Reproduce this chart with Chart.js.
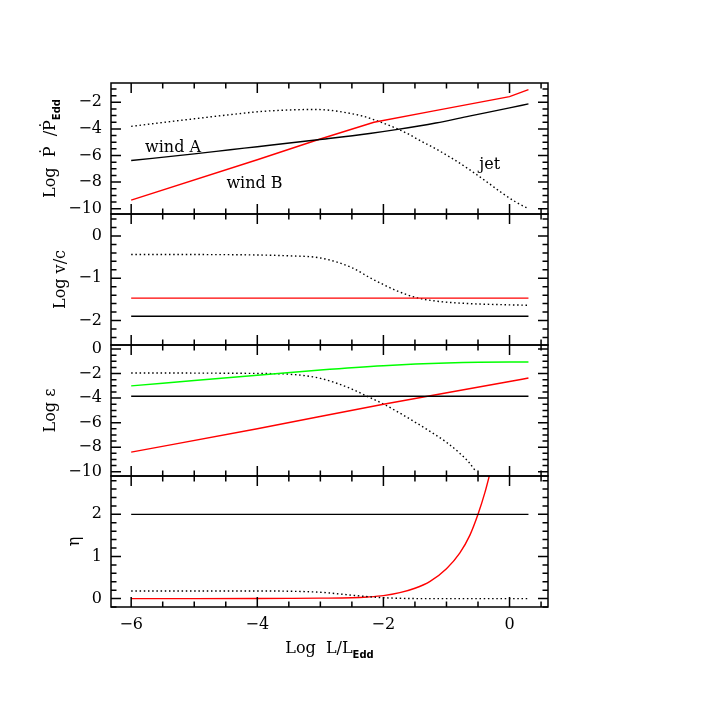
<!DOCTYPE html>
<html><head><meta charset="utf-8">
<script src="https://cdn.jsdelivr.net/npm/chart.js@4.4.1/dist/chart.umd.min.js"></script>
<style>html,body{margin:0;padding:0;background:#fff;}canvas{display:block;}</style>
</head><body>
<canvas id="c" width="718" height="718"></canvas>
<script>
// ---------- tick labels ----------
const xTicks   = [-6, -4, -2, 0];
const ticksP   = [-10, -8, -6, -4, -2];
const ticksV   = [-2, -1, 0];
const ticksE   = [-10, -8, -6, -4, -2, 0];
const ticksEta = [0, 1, 2];

// ---------- panel 1 : Log Pdot / Pdot_Edd ----------
const windA_L = [-6, -5, -4.43, -4, -3.04, -2.22, -1.8, -1.17, -0.64, 0, 0.3];
const windA_P = [-6.38, -5.88, -5.57, -5.34, -4.82, -4.35, -4.06, -3.56, -3.04, -2.42, -2.12];
const windB_L = [-6, -4, -3.04, -2.15, -1.2, 0, 0.3];
const windB_P = [-9.36, -6.32, -4.82, -3.5, -2.65, -1.57, -1.05];
const jet_L   = [-6, -5.5, -5, -4.43, -3.91, -3.38, -3.1, -2.85, -2.59, -2.32, -2.17, -1.8, -1.6, -1.43, -1.17, -0.9, -0.64, -0.37, -0.11, 0.1, 0.3];
const jet_P   = [-3.81, -3.52, -3.24, -2.93, -2.68, -2.56, -2.54, -2.6, -2.78, -3.05, -3.28, -3.95, -4.4, -4.85, -5.5, -6.25, -7.05, -7.95, -8.85, -9.5, -10.0];

// ---------- panel 2 : Log v/c ----------
const flat_L   = [-6, 0.3];
const windA_V  = [-1.9, -1.9];
const windB_V  = [-1.47, -1.47];
const jetV_L   = [-6, -5, -4, -3.5, -3, -2.5, -2.2, -2, -1.8, -1.5, -1.17, -0.64, 0, 0.3];
const jet_V    = [-0.44, -0.44, -0.45, -0.47, -0.52, -0.75, -1.0, -1.15, -1.29, -1.45, -1.54, -1.6, -1.63, -1.64];

// ---------- panel 3 : Log epsilon ----------
const green_L  = [-6, -5, -4, -3, -2, -1, 0, 0.3];
const green_E  = [-3.0, -2.57, -2.14, -1.71, -1.36, -1.14, -1.06, -1.06];
const windA_E  = [-3.85, -3.85];
const windBE_L = [-6, -4, -2, 0, 0.3];
const windB_E  = [-8.4, -6.5, -4.5, -2.65, -2.36];
const jetE_L   = [-6, -5, -4, -3.5, -3, -2.5, -2.28, -2, -1.5, -1.25, -1, -0.8, -0.65, -0.53];
const jet_E    = [-1.95, -1.96, -1.99, -2.05, -2.39, -3.26, -3.8, -4.48, -5.95, -6.75, -7.6, -8.45, -9.2, -10.0];

// ---------- panel 4 : eta ----------
const windA_Eta = [2.0, 2.0];
const jetEta_L  = [-6, -4, -3.5, -3, -2.7, -2.5, -2.2, -2, -1.7, -1.5, 0.3];
const jet_Eta   = [0.18, 0.18, 0.175, 0.15, 0.11, 0.08, 0.04, 0.02, 0.005, 0, 0];
const windBEta_L = [-6, -5, -4, -3.5, -3, -2.5, -2.25, -2, -1.74, -1.5, -1.26, -1, -0.79, -0.63, -0.5, -0.39, -0.28];
const windB_Eta  = [0, 0, 0.002, 0.005, 0.01, 0.02, 0.038, 0.07, 0.14, 0.245, 0.41, 0.71, 1.08, 1.5, 2.0, 2.52, 3.15];

// ---------- helpers ----------
const FAM = '"DejaVu Serif", serif';
const TICKFONT = {family: FAM, size: 16};
const fmt = v => (v < 0 ? '\u2212' + Math.abs(v) : String(v));
const pts = (xs, ys) => xs.map((x, i) => ({x: x, y: ys[i]}));

function ds(xs, ys, axis, color, dotted, straight) {
  return {
    data: pts(xs, ys), yAxisID: axis, xAxisID: 'x',
    borderColor: color, borderWidth: 1.4, pointRadius: 0, fill: false,
    borderDash: dotted ? [1.5, 2.7] : [],
    cubicInterpolationMode: straight ? 'default' : 'monotone', tension: 0
  };
}

const panelDefs = [
  {id: 'yP',   ticks: ticksP,   minor: 0.5, min: -10.4,  max: -0.55,
   title: [{t: 'Log  \u1E56  /\u1E56'}, {t: 'Edd', sub: true}]},
  {id: 'yV',   ticks: ticksV,   minor: 0.2, min: -2.58,  max: 0.52, title: [{t: 'Log v/c'}]},
  {id: 'yE',   ticks: ticksE,   minor: 0.5, min: -10.35, max: 0.33, title: [{t: 'Log \u03B5'}]},
  {id: 'yEta', ticks: ticksEta, minor: 0.2, min: -0.2,   max: 2.91, title: [{t: '\u03B7'}]}
];
const xMinor = 0.5;

function yScale(p) {
  return {
    type: 'linear', position: 'left', stack: 'panels', stackWeight: 1,
    min: p.min, max: p.max,
    grid: {display: false, drawTicks: false}, border: {display: false},
    ticks: {font: TICKFONT, color: '#000', padding: 9, autoSkip: false, callback: fmt},
    afterBuildTicks: s => { s.ticks = p.ticks.map(v => ({value: v})); },
    afterFit: s => { s.width = 60; }
  };
}

const TITLEFONT = '16px ' + FAM;
const SUBFONT = 'bold 10px "DejaVu Sans", sans-serif';
function drawRich(ctx, parts, cx, cy, rotate) {
  ctx.save();
  ctx.translate(cx, cy);
  if (rotate) ctx.rotate(-Math.PI / 2);
  const w = parts.map(p => { ctx.font = p.sub ? SUBFONT : TITLEFONT; return ctx.measureText(p.t).width; });
  let x = -w.reduce((a, b) => a + b, 0) / 2;
  ctx.textAlign = 'left'; ctx.textBaseline = 'alphabetic'; ctx.fillStyle = '#000';
  parts.forEach((p, i) => {
    ctx.font = p.sub ? SUBFONT : TITLEFONT;
    ctx.fillText(p.t, x, p.sub ? 5 : 0);
    x += w[i];
  });
  ctx.restore();
}

const notes = [
  {t: 'wind A', x: -5.78, y: -5.72, axis: 'yP'},
  {t: 'wind B', x: -4.49, y: -8.45, axis: 'yP'},
  {t: 'jet',    x: -0.48, y: -7.02, axis: 'yP'}
];

const framePlugin = {
  id: 'frame',
  afterDraw(chart) {
    const ctx = chart.ctx, xs = chart.scales.x;
    const L = xs.left, R = xs.right;
    ctx.save();
    ctx.strokeStyle = '#000'; ctx.lineWidth = 1.5;
    panelDefs.forEach(p => {
      const s = chart.scales[p.id];
      const T = s.top, B = s.bottom;
      ctx.strokeRect(L, T, R - L, B - T);
      ctx.beginPath();
      const n0 = Math.ceil(s.min / p.minor - 1e-6), n1 = Math.floor(s.max / p.minor + 1e-6);
      for (let n = n0; n <= n1; n++) {
        const v = n * p.minor;
        const major = p.ticks.some(t => Math.abs(t - v) < 1e-6);
        const len = major ? 10 : 5.5;
        const y = s.getPixelForValue(v);
        ctx.moveTo(L, y); ctx.lineTo(L + len, y);
        ctx.moveTo(R, y); ctx.lineTo(R - len, y);
      }
      const m0 = Math.ceil(xs.min / xMinor - 1e-6), m1 = Math.floor(xs.max / xMinor + 1e-6);
      for (let n = m0; n <= m1; n++) {
        const v = n * xMinor;
        const major = xTicks.some(t => Math.abs(t - v) < 1e-6);
        const len = major ? 10 : 5.5;
        const x = xs.getPixelForValue(v);
        ctx.moveTo(x, T); ctx.lineTo(x, T + len);
        ctx.moveTo(x, B); ctx.lineTo(x, B - len);
      }
      ctx.stroke();
      // y title placed left of this panel's tick labels
      ctx.font = '16px ' + FAM;
      const maxW = Math.max(...p.ticks.map(t => ctx.measureText(fmt(t)).width));
      const bx = L - 9 - maxW - 13;
      drawRich(ctx, p.title, bx, (T + B) / 2, true);
    });
    // x title
    drawRich(ctx, [{t: 'Log  L/L'}, {t: 'Edd', sub: true}], (L + R) / 2, 653, false);
    // annotations
    ctx.font = TITLEFONT; ctx.fillStyle = '#000'; ctx.textAlign = 'left'; ctx.textBaseline = 'alphabetic';
    notes.forEach(n => {
      ctx.fillText(n.t, xs.getPixelForValue(n.x), chart.scales[n.axis].getPixelForValue(n.y));
    });
    ctx.restore();
  }
};

const scales = {
  x: {
    type: 'linear', position: 'bottom', min: -6.32, max: 0.61,
    grid: {display: false, drawTicks: false}, border: {display: false},
    ticks: {font: TICKFONT, color: '#000', padding: 8, maxRotation: 0, autoSkip: false, callback: fmt},
    afterBuildTicks: s => { s.ticks = xTicks.map(v => ({value: v})); },
    afterFit: s => { s.height = 40; }
  }
};
// bottom panel first: later-defined stacked axes are placed on top
[3, 2, 1, 0].forEach(i => { scales[panelDefs[i].id] = yScale(panelDefs[i]); });

new Chart(document.getElementById('c'), {
  type: 'line',
  data: {
    datasets: [
      ds(windA_L, windA_P, 'yP', '#000000', false, false),
      ds(windB_L, windB_P, 'yP', '#ff0000', false, true),
      ds(jet_L, jet_P, 'yP', '#000000', true, false),
      ds(flat_L, windA_V, 'yV', '#000000', false, true),
      ds(flat_L, windB_V, 'yV', '#ff0000', false, true),
      ds(jetV_L, jet_V, 'yV', '#000000', true, false),
      ds(green_L, green_E, 'yE', '#00ff00', false, false),
      ds(flat_L, windA_E, 'yE', '#000000', false, true),
      ds(windBE_L, windB_E, 'yE', '#ff0000', false, false),
      ds(jetE_L, jet_E, 'yE', '#000000', true, false),
      ds(flat_L, windA_Eta, 'yEta', '#000000', false, true),
      ds(jetEta_L, jet_Eta, 'yEta', '#000000', true, false),
      ds(windBEta_L, windB_Eta, 'yEta', '#ff0000', false, false)
    ]
  },
  options: {
    responsive: false, animation: false, devicePixelRatio: 1,
    layout: {padding: {left: 51, right: 170, top: 83, bottom: 71}},
    plugins: {legend: {display: false}, tooltip: {enabled: false}},
    scales: scales
  },
  plugins: [framePlugin]
});
</script>
</body></html>
